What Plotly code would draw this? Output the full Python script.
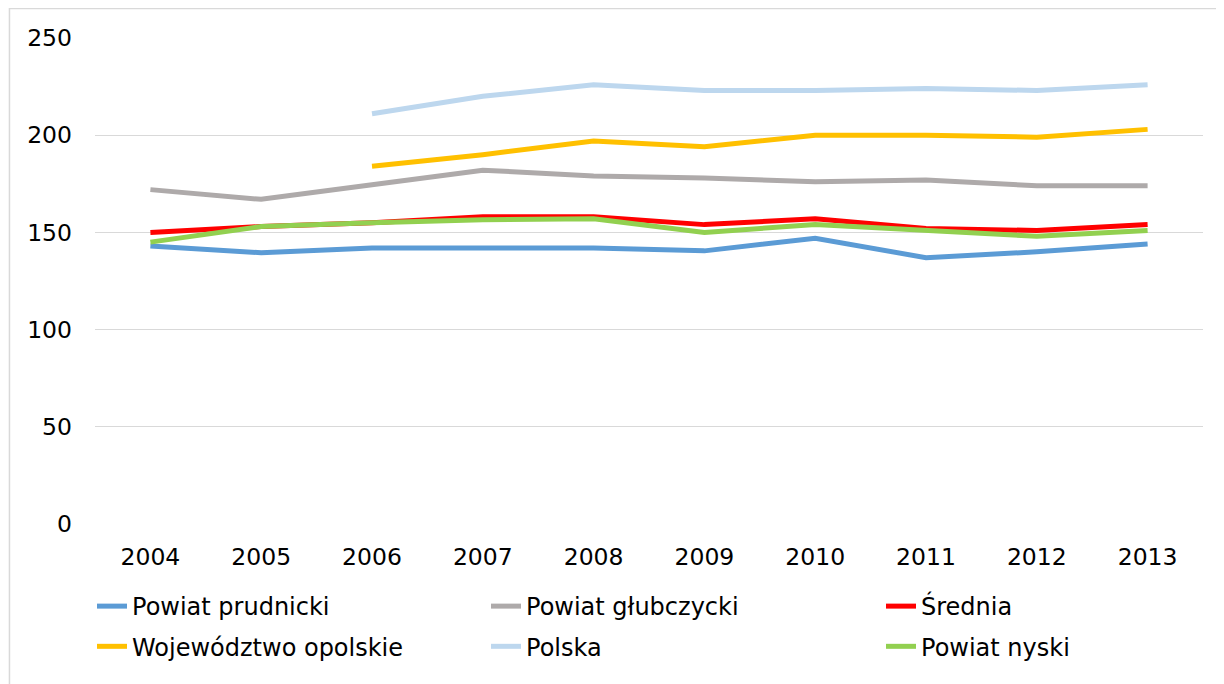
import plotly.graph_objects as go

years = ["2004", "2005", "2006", "2007", "2008", "2009", "2010", "2011", "2012", "2013"]

powiat_prudnicki = [143, 139.5, 142, 142, 142, 140.5, 147, 137, 140, 144]
powiat_glubczycki = [172, 167, 174.5, 182, 179, 178, 176, 177, 174, 174]
srednia = [150, 153, 155, 158, 158, 154, 157, 152, 151, 154]
wojewodztwo_opolskie = [None, None, 184, 190, 197, 194, 200, 200, 199, 203]
polska = [None, None, 211, 220, 226, 223, 223, 224, 223, 226]
powiat_nyski = [145, 153, 155, 156.5, 157, 150, 154, 151, 148, 151]

series = [
    ("Powiat prudnicki", powiat_prudnicki, "#5B9BD5", "legend"),
    ("Powiat głubczycki", powiat_glubczycki, "#AEAAAA", "legend2"),
    ("Średnia", srednia, "#FF0000", "legend3"),
    ("Województwo opolskie", wojewodztwo_opolskie, "#FFC000", "legend"),
    ("Polska", polska, "#BDD7EE", "legend2"),
    ("Powiat nyski", powiat_nyski, "#92D050", "legend3"),
]

fig = go.Figure()
for name, vals, color, leg in series:
    fig.add_trace(go.Scatter(
        x=years, y=vals, name=name, mode="lines",
        line=dict(color=color, width=5),
        connectgaps=False, legend=leg, legendgroup=name,
    ))

font = "DejaVu Sans, Verdana, sans-serif"

def legend_at(xp):
    return dict(
        orientation="v",
        x=xp, xanchor="left",
        y=-0.1235, yanchor="top",
        font=dict(family=font, size=24, color="#000000"),
        bgcolor="rgba(0,0,0,0)",
        traceorder="grouped",
        tracegroupgap=6,
    )

fig.update_layout(
    width=1224, height=684,
    margin=dict(l=87, r=29, t=30, b=168, autoexpand=False),
    paper_bgcolor="white", plot_bgcolor="white",
    font=dict(family=font, size=24, color="#000000"),
    showlegend=True,
    legend=legend_at(-0.0027),
    legend2=legend_at(0.3529),
    legend3=legend_at(0.7094),
    xaxis=dict(
        type="category",
        range=[-0.5, 9.5],
        showgrid=False, zeroline=False,
        showline=False,
        ticks="", ticklabelstandoff=16,
        tickfont=dict(family=font, size=23.5, color="#000000"),
    ),
    yaxis=dict(
        range=[0, 250],
        tickvals=[0, 50, 100, 150, 200, 250],
        showgrid=True, gridcolor="#D9D9D9", gridwidth=1.3,
        zeroline=False, showline=False,
        ticks="", ticklabelstandoff=22,
        tickfont=dict(family=font, size=23.5, color="#000000"),
    ),
    shapes=[
        dict(type="rect", xref="paper", yref="paper",
             x0=-0.0772, x1=1.2, y0=-0.6, y1=1.0607,
             line=dict(color="#D9D9D9", width=1.5), fillcolor="rgba(0,0,0,0)",
             layer="below"),
    ],
)

fig.write_html("out.html")
